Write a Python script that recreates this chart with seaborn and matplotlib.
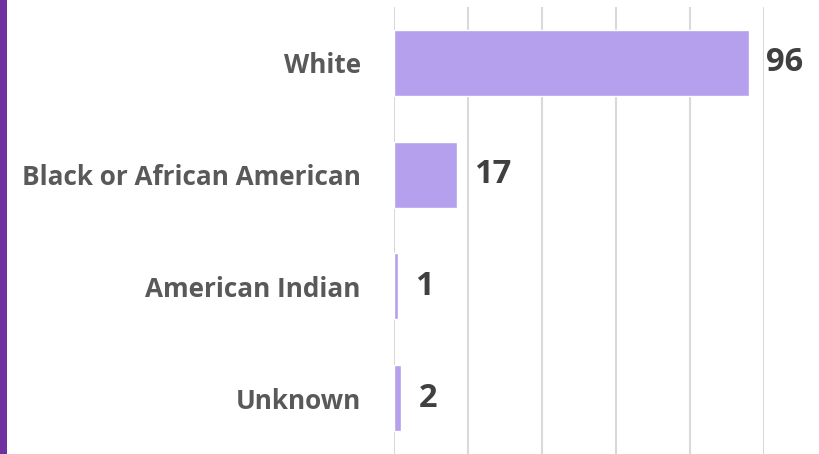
import matplotlib
matplotlib.use("Agg")
import matplotlib.pyplot as plt
import seaborn as sns
import pandas as pd
from matplotlib.patches import Rectangle

categories = ["White", "Black or African American", "American Indian", "Unknown"]
counts = [96, 17, 1, 2]
grid_ticks = [0, 20, 40, 60, 80, 100]

df = pd.DataFrame({"race": categories, "count": counts})

sns.set_theme(style="white")
plt.rcParams["font.family"] = ["Open Sans", "DejaVu Sans"]

fig = plt.figure(figsize=(8.19, 4.54), dpi=100)
ax = fig.add_axes([394 / 819, 0.0, (764 - 394) / 819, 1 - 7 / 454])

sns.barplot(data=df, x="count", y="race", order=categories, color="#B4A0EC",
            width=0.59, saturation=1, ax=ax)

ax.set_xlim(0, 100)
ax.set_ylim(3.5, -0.5)
ax.set_xticks(grid_ticks)
ax.set_xticklabels([])
ax.xaxis.grid(True, color="#D9D9D9", linewidth=1.5)
ax.set_axisbelow(True)
ax.tick_params(axis="both", length=0)
ax.tick_params(axis="y", pad=24)
for lbl in ax.get_yticklabels():
    lbl.set_fontsize(18.8)
    lbl.set_fontweight("bold")
    lbl.set_color("#595959")
ax.set_xlabel("")
ax.set_ylabel("")
for s in ax.spines.values():
    s.set_visible(False)

for bar, v in zip(ax.patches, counts):
    ax.annotate(str(v), (bar.get_width(), bar.get_y() + bar.get_height() / 2),
                xytext=(17, 0), textcoords="offset pixels", va="center", ha="left",
                fontsize=23.5, fontweight="bold", color="#404040", annotation_clip=False)

# purple accent band down the left edge
fig.patches.append(Rectangle((0, 0), 7 / 819, 1, transform=fig.transFigure,
                             facecolor="#7030A0", edgecolor="none"))

fig.savefig("out.png", dpi=100)
